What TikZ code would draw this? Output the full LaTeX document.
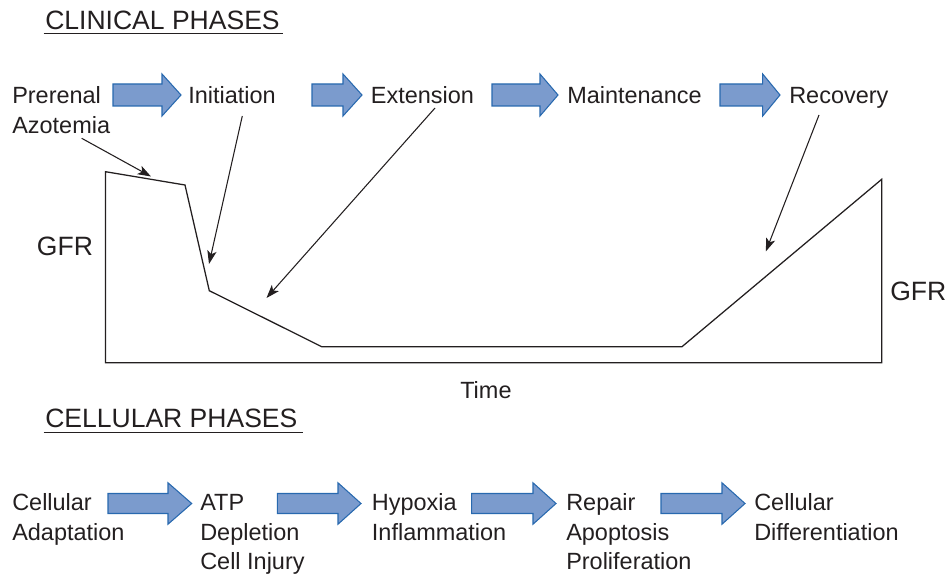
\documentclass[tikz,border=0pt]{standalone}
\usepackage{fontspec}
\setmainfont{Liberation Sans}
\usetikzlibrary{arrows.meta}
\definecolor{txt}{RGB}{35,31,32}
\definecolor{bafill}{RGB}{123,155,205}
\definecolor{badraw}{RGB}{40,105,175}
\tikzset{
  lbl/.style={anchor=base west, inner sep=0pt, text=txt, font=\fontsize{17.6}{20}\selectfont},
  biglbl/.style={lbl, font=\fontsize{19.9}{22}\selectfont},
  curve/.style={draw=txt, line width=0.95pt, line join=miter},
  pointer/.style={draw=txt, line width=0.8pt, -{Stealth[length=10pt,width=7pt,inset=2.5pt]}},
  barrow/.style={fill=bafill, draw=badraw, line width=0.8pt, line join=miter}
}
% \blockarr{left}{headbase}{tip}{yc}{shafthalf}{headhalf}
\newcommand{\blockarr}[6]{%
  \path[barrow] (#1,#4-#5) -- (#2,#4-#5) -- (#2,#4-#6) -- (#3,#4) -- (#2,#4+#6) -- (#2,#4+#5) -- (#1,#4+#5) -- cycle;}
\begin{document}
\begin{tikzpicture}[x=0.75pt,y=-0.75pt]
\useasboundingbox (0,0) rectangle (949,574);

% headings
\node[biglbl] (clin) at (45,29.3) {CLINICAL PHASES};
\draw[txt, line width=0.9pt] (43.5,33.8) -- (283.3,33.8);
\node[biglbl] (cell) at (45,427.5) {CELLULAR PHASES};
\draw[txt, line width=0.9pt] (43.5,432.5) -- (303,432.5);

% clinical row
\node[lbl] (pre1) at (12,103.3) {Prerenal};
\node[lbl] (pre2) at (12,133.3) {Azotemia};
\node[lbl] (init) at (188,103.3) {Initiation};
\node[lbl] (ext) at (370.7,103.3) {Extension};
\node[lbl] (main) at (567,103.3) {Maintenance};
\node[lbl] (rec) at (789,103.3) {Recovery};
\blockarr{113}{162}{181}{95}{11}{21}
\blockarr{312}{343}{362}{95}{11}{21}
\blockarr{492}{540}{558}{95}{11}{21}
\blockarr{720}{762.7}{780}{95}{11}{21}

% graph
\draw[curve] (105.5,171.7) -- (185,185) -- (209.3,290.7) -- (321.7,346.7) -- (682,346.7) -- (881.7,179.3) -- (881.7,362.8) -- (105.5,362.8) -- cycle;
\node[biglbl] (gfrl) at (36.7,255) {GFR};
\node[biglbl] (gfrr) at (890,300) {GFR};
\node[lbl] (time) at (460,398) {Time};

% pointers
\coordinate (a1s) at (81.7,138.3);  \coordinate (a1e) at (151,176.5);
\coordinate (a2s) at (242.3,116);   \coordinate (a2e) at (209,264);
\coordinate (a3s) at (435,108);     \coordinate (a3e) at (266.5,298);
\coordinate (a4s) at (819,115);     \coordinate (a4e) at (765.8,251.5);
\draw[pointer] (a1s) -- (a1e);
\draw[pointer] (a2s) -- (a2e);
\draw[pointer] (a3s) -- (a3e);
\draw[pointer] (a4s) -- (a4e);

% cellular row
\node[lbl] (c1a) at (12,510.7) {Cellular};
\node[lbl] (c1b) at (12,540.7) {Adaptation};
\node[lbl] (c2a) at (200,510.7) {ATP};
\node[lbl] (c2b) at (200,540.7) {Depletion};
\node[lbl] (c2c) at (200,569.5) {Cell Injury};
\node[lbl] (c3a) at (371.7,510.7) {Hypoxia};
\node[lbl] (c3b) at (371.7,540.7) {Inflammation};
\node[lbl] (c4a) at (566,510.7) {Repair};
\node[lbl] (c4b) at (566,540.7) {Apoptosis};
\node[lbl] (c4c) at (566,569.5) {Proliferation};
\node[lbl] (c5a) at (754,510.7) {Cellular};
\node[lbl] (c5b) at (754,540.7) {Differentiation};
\blockarr{108}{168}{191.7}{503.5}{10}{20.7}
\blockarr{277.3}{338}{361}{503.5}{10}{20.7}
\blockarr{471.7}{533}{556}{503.5}{10}{20.7}
\blockarr{661}{722}{745}{503.5}{10}{20.7}
\end{tikzpicture}
\end{document}
